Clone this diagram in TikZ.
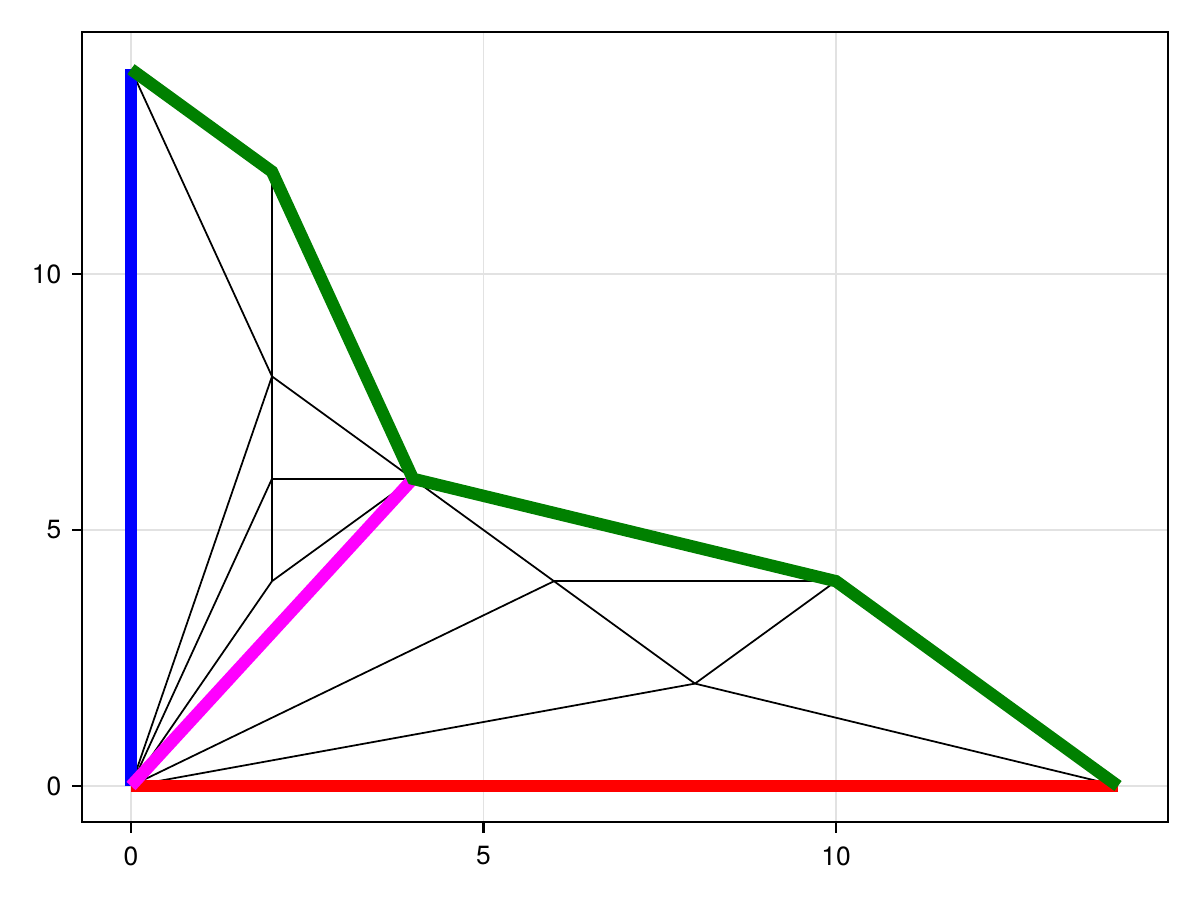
\documentclass[tikz,border=0pt]{standalone}
\usepackage{fontspec}
\setmainfont{TeX Gyre Heros}
\begin{document}
\begin{tikzpicture}[x=0.705cm,y=0.512cm,
  gridline/.style={draw={rgb,255:red,226;green,226;blue,226},line width=0.3pt},
  frame/.style={draw=black,line width=0.6pt},
  tickmark/.style={draw=black,line width=0.6pt},
  ticklabel/.style={inner sep=0pt,font=\fontsize{7.5}{9}\selectfont},
  mesh/.style={draw=black,line width=0.5pt},
  thick edge/.style={line width=3.5pt,line cap=butt}]
\useasboundingbox (-1.31cm,-1.14cm) rectangle (10.69cm,7.86cm);
% points
\coordinate (p0) at (0,0);
\coordinate (p1) at (0,14);
\coordinate (p2) at (2,12);
\coordinate (p3) at (4,6);
\coordinate (p4) at (10,4);
\coordinate (p5) at (14,0);
\coordinate (q1) at (2,8);
\coordinate (q2) at (2,6);
\coordinate (q3) at (2,4);
\coordinate (q4) at (6,4);
\coordinate (q5) at (8,2);
% grid
\foreach \v in {0,5,10} {
  \draw[gridline] (\v,-0.36cm) -- (\v,7.54cm);
  \draw[gridline] (-0.49cm,\v) -- (10.37cm,\v);
}
% mesh edges
\draw[mesh] (p1) -- (q1);
\draw[mesh] (p2) -- (q1) -- (q2) -- (q3);
\draw[mesh] (q1) -- (p3);
\draw[mesh] (q2) -- (p3);
\draw[mesh] (q3) -- (p3);
\draw[mesh] (p0) -- (q1);
\draw[mesh] (p0) -- (q2);
\draw[mesh] (p0) -- (q3);
\draw[mesh] (p0) -- (q4);
\draw[mesh] (p0) -- (q5);
\draw[mesh] (p3) -- (q4) -- (q5);
\draw[mesh] (q4) -- (p4);
\draw[mesh] (q5) -- (p4);
\draw[mesh] (q5) -- (p5);
% boundary edges
\draw[thick edge,draw={rgb,255:red,255;green,0;blue,0}] (p0) -- (p5);
\draw[thick edge,draw={rgb,255:red,0;green,0;blue,255}] (p0) -- (p1);
\draw[thick edge,draw={rgb,255:red,255;green,0;blue,255}] (p0) -- (p3);
\draw[thick edge,draw={rgb,255:red,0;green,128;blue,0}] (p1) -- (p2) -- (p3) -- (p4) -- (p5);
% frame
\draw[frame] (-0.49cm,-0.36cm) rectangle (10.37cm,7.54cm);
% ticks and labels
\foreach \v in {0,5,10} {
  \draw[tickmark] (\v,-0.36cm) -- (\v,-0.47cm);
  \node[ticklabel] (xl\v) at (\v,-0.70cm) {\v};
  \draw[tickmark] (-0.49cm,\v) -- (-0.59cm,\v);
  \node[ticklabel,anchor=east] (yl\v) at (-0.69cm,\v) {\v};
}
\end{tikzpicture}
\end{document}
